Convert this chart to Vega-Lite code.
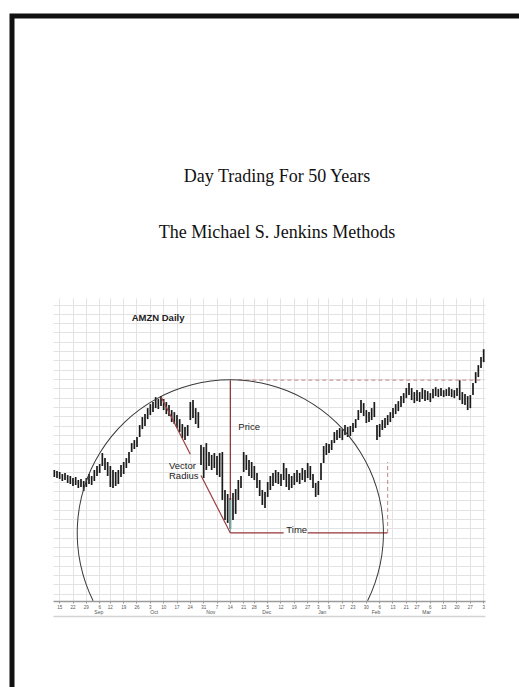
{
  "$schema": "https://vega.github.io/schema/vega-lite/v6.json",
  "width": 527,
  "height": 867,
  "autosize": {"type": "none"},
  "padding": {"left": 12, "top": 16, "right": -20, "bottom": -196},
  "background": "white",
  "config": {
    "view": {"stroke": "#111", "strokeWidth": 5, "fill": null},
    "font": "Liberation Sans"
  },
  "title": {
    "text": ["Day Trading For 50 Years", "The Michael S. Jenkins Methods"],
    "font": "Liberation Serif",
    "fontSize": 18,
    "fontWeight": "normal",
    "color": "#111",
    "lineHeight": 55.6,
    "anchor": "middle",
    "frame": "group",
    "baseline": "alphabetic",
    "offset": -240,
    "dx": 1.5
  },
  "datasets": {
    "bars": [
      {"d":"2016-08-11","h":772.5,"l":765.0},{"d":"2016-08-12","h":771.4,"l":763.9},{"d":"2016-08-15","h":770.4,"l":762.9},{"d":"2016-08-16","h":768.2,"l":760.7},{"d":"2016-08-17","h":769.3,"l":761.8},{"d":"2016-08-18","h":767.1,"l":758.6},{"d":"2016-08-19","h":766.1,"l":757.5},
      {"d":"2016-08-22","h":763.9,"l":755.4},{"d":"2016-08-23","h":765.0,"l":756.4},{"d":"2016-08-24","h":761.8,"l":753.2},{"d":"2016-08-25","h":762.9,"l":754.3},{"d":"2016-08-26","h":760.7,"l":750.0},
      {"d":"2016-08-29","h":763.9,"l":754.3},{"d":"2016-08-30","h":768.2,"l":757.5},{"d":"2016-08-31","h":766.1,"l":756.4},{"d":"2016-09-01","h":772.5,"l":760.7},{"d":"2016-09-02","h":776.8,"l":766.1},
      {"d":"2016-09-06","h":778.9,"l":769.3},{"d":"2016-09-07","h":790.7,"l":776.8},{"d":"2016-09-08","h":785.3,"l":772.5},{"d":"2016-09-09","h":781.1,"l":766.1},
      {"d":"2016-09-12","h":776.8,"l":754.3},{"d":"2016-09-13","h":772.5,"l":753.2},{"d":"2016-09-14","h":770.4,"l":755.4},{"d":"2016-09-15","h":772.5,"l":757.5},{"d":"2016-09-16","h":777.9,"l":765.0},
      {"d":"2016-09-19","h":781.1,"l":768.2},{"d":"2016-09-20","h":785.3,"l":774.6},{"d":"2016-09-21","h":791.8,"l":780.0},{"d":"2016-09-22","h":801.4,"l":791.8},{"d":"2016-09-23","h":804.6,"l":795.0},
      {"d":"2016-09-26","h":807.9,"l":797.1},{"d":"2016-09-27","h":820.7,"l":807.9},{"d":"2016-09-28","h":829.3,"l":816.4},{"d":"2016-09-29","h":832.5,"l":819.7},{"d":"2016-09-30","h":838.9,"l":827.1},
      {"d":"2016-10-03","h":843.2,"l":831.4},{"d":"2016-10-04","h":845.4,"l":834.6},{"d":"2016-10-05","h":850.7,"l":838.9},{"d":"2016-10-06","h":848.6,"l":837.9},{"d":"2016-10-07","h":851.8,"l":841.1},
      {"d":"2016-10-10","h":848.6,"l":836.8},{"d":"2016-10-11","h":845.4,"l":832.5},{"d":"2016-10-12","h":842.1,"l":830.4},{"d":"2016-10-13","h":836.8,"l":823.9},{"d":"2016-10-14","h":834.6,"l":821.8},
      {"d":"2016-10-17","h":831.4,"l":817.5},{"d":"2016-10-18","h":827.1,"l":813.2},{"d":"2016-10-19","h":821.8,"l":806.8},{"d":"2016-10-20","h":818.6,"l":804.6},{"d":"2016-10-21","h":820.7,"l":808.9},
      {"d":"2016-10-24","h":845.4,"l":826.1},{"d":"2016-10-25","h":847.5,"l":828.2},{"d":"2016-10-26","h":838.9,"l":821.8},{"d":"2016-10-27","h":834.6,"l":817.5},{"d":"2016-10-28","h":799.3,"l":777.9},
      {"d":"2016-10-31","h":797.1,"l":763.9},{"d":"2016-11-01","h":801.4,"l":772.5},{"d":"2016-11-02","h":791.8,"l":776.8},{"d":"2016-11-03","h":788.6,"l":772.5},{"d":"2016-11-04","h":790.7,"l":774.6},
      {"d":"2016-11-07","h":787.5,"l":767.1},{"d":"2016-11-08","h":790.7,"l":765.0},{"d":"2016-11-09","h":791.8,"l":740.4},{"d":"2016-11-10","h":751.1,"l":719.0},{"d":"2016-11-11","h":746.8,"l":715.7},
      {"d":"2016-11-14","h":742.5,"l":709.3},{"d":"2016-11-15","h":747.9,"l":719.0},{"d":"2016-11-16","h":752.1,"l":725.4},{"d":"2016-11-17","h":761.8,"l":740.4},{"d":"2016-11-18","h":766.1,"l":753.2},
      {"d":"2016-11-21","h":791.8,"l":770.4},{"d":"2016-11-22","h":788.6,"l":772.5},{"d":"2016-11-23","h":783.2,"l":766.1},{"d":"2016-11-25","h":781.1,"l":763.9},
      {"d":"2016-11-28","h":776.8,"l":761.8},{"d":"2016-11-29","h":769.3,"l":753.2},{"d":"2016-11-30","h":761.8,"l":744.6},{"d":"2016-12-01","h":751.1,"l":735.0},{"d":"2016-12-02","h":748.9,"l":731.8},
      {"d":"2016-12-05","h":759.6,"l":743.6},{"d":"2016-12-06","h":766.1,"l":751.1},{"d":"2016-12-07","h":769.3,"l":755.4},{"d":"2016-12-08","h":772.5,"l":758.6},{"d":"2016-12-09","h":770.4,"l":757.5},
      {"d":"2016-12-12","h":768.2,"l":755.4},{"d":"2016-12-13","h":780.0,"l":761.8},{"d":"2016-12-14","h":774.6,"l":754.3},{"d":"2016-12-15","h":768.2,"l":751.1},{"d":"2016-12-16","h":766.1,"l":753.2},
      {"d":"2016-12-19","h":769.3,"l":756.4},{"d":"2016-12-20","h":772.5,"l":759.6},{"d":"2016-12-21","h":769.3,"l":757.5},{"d":"2016-12-22","h":774.6,"l":761.8},{"d":"2016-12-23","h":772.5,"l":759.6},
      {"d":"2016-12-27","h":780.0,"l":763.9},{"d":"2016-12-28","h":776.8,"l":761.8},{"d":"2016-12-29","h":768.2,"l":753.2},{"d":"2016-12-30","h":758.6,"l":743.6},
      {"d":"2017-01-03","h":760.7,"l":745.7},{"d":"2017-01-04","h":780.0,"l":761.8},{"d":"2017-01-05","h":798.2,"l":780.0},{"d":"2017-01-06","h":801.4,"l":788.6},
      {"d":"2017-01-09","h":800.4,"l":790.7},{"d":"2017-01-10","h":804.6,"l":793.9},{"d":"2017-01-11","h":813.2,"l":801.4},{"d":"2017-01-12","h":815.4,"l":804.6},{"d":"2017-01-13","h":817.5,"l":806.8},
      {"d":"2017-01-17","h":816.4,"l":804.6},{"d":"2017-01-18","h":820.7,"l":810.0},{"d":"2017-01-19","h":818.6,"l":807.9},{"d":"2017-01-20","h":819.7,"l":808.9},
      {"d":"2017-01-23","h":822.9,"l":813.2},{"d":"2017-01-24","h":827.1,"l":817.5},{"d":"2017-01-25","h":836.8,"l":826.1},{"d":"2017-01-26","h":847.5,"l":833.6},{"d":"2017-01-27","h":844.3,"l":830.4},
      {"d":"2017-01-30","h":836.8,"l":822.9},{"d":"2017-01-31","h":834.6,"l":823.9},{"d":"2017-02-01","h":838.9,"l":826.1},{"d":"2017-02-02","h":845.4,"l":829.3},{"d":"2017-02-03","h":820.7,"l":804.6},
      {"d":"2017-02-06","h":821.8,"l":807.9},{"d":"2017-02-07","h":826.1,"l":815.4},{"d":"2017-02-08","h":828.2,"l":817.5},{"d":"2017-02-09","h":831.4,"l":820.7},{"d":"2017-02-10","h":834.6,"l":823.9},
      {"d":"2017-02-13","h":838.9,"l":828.2},{"d":"2017-02-14","h":843.2,"l":832.5},{"d":"2017-02-15","h":846.4,"l":835.7},{"d":"2017-02-16","h":851.8,"l":840.0},{"d":"2017-02-17","h":855.0,"l":844.3},
      {"d":"2017-02-21","h":860.4,"l":849.6},{"d":"2017-02-22","h":865.7,"l":852.9},{"d":"2017-02-23","h":860.4,"l":847.5},{"d":"2017-02-24","h":856.1,"l":844.3},
      {"d":"2017-02-27","h":858.2,"l":846.4},{"d":"2017-02-28","h":856.1,"l":845.4},{"d":"2017-03-01","h":860.4,"l":848.6},{"d":"2017-03-02","h":858.2,"l":846.4},{"d":"2017-03-03","h":857.1,"l":847.5},
      {"d":"2017-03-06","h":855.0,"l":845.4},{"d":"2017-03-07","h":859.3,"l":849.6},{"d":"2017-03-08","h":861.4,"l":851.8},{"d":"2017-03-09","h":859.3,"l":850.7},{"d":"2017-03-10","h":860.4,"l":851.8},
      {"d":"2017-03-13","h":858.2,"l":850.7},{"d":"2017-03-14","h":859.3,"l":851.8},{"d":"2017-03-15","h":861.4,"l":851.8},{"d":"2017-03-16","h":859.3,"l":850.7},{"d":"2017-03-17","h":858.2,"l":849.6},
      {"d":"2017-03-20","h":860.4,"l":851.8},{"d":"2017-03-21","h":868.9,"l":847.5},{"d":"2017-03-22","h":856.1,"l":843.2},{"d":"2017-03-23","h":853.9,"l":842.1},{"d":"2017-03-24","h":851.8,"l":836.8},
      {"d":"2017-03-27","h":852.9,"l":838.9},{"d":"2017-03-28","h":865.7,"l":852.9},{"d":"2017-03-29","h":877.5,"l":865.7},{"d":"2017-03-30","h":885.0,"l":872.2},{"d":"2017-03-31","h":893.6,"l":881.8},
      {"d":"2017-04-03","h":902.1,"l":888.2}
    ],
    "segs": [
      {"seg":"price","d1":"2016-11-14","p1":868.9,"d2":"2016-11-14","p2":740.4},
      {"seg":"price low","d1":"2016-11-14","p1":740.4,"d2":"2016-11-14","p2":705.0},
      {"seg":"vector","d1":"2016-10-07","p1":851.1,"d2":"2016-10-24","p2":789.3},
      {"seg":"vector","d1":"2016-10-28","p1":766.7,"d2":"2016-11-14","p2":705.0},
      {"seg":"time","d1":"2016-11-14","p1":705.0,"d2":"2016-12-13","p2":705.0},
      {"seg":"time","d1":"2016-12-27","p1":705.0,"d2":"2017-02-09","p2":705.0}
    ],
    "dashes": [
      {"d1":"2016-11-17","p1":868.9,"d2":"2017-04-03","p2":868.9},
      {"d1":"2017-02-09","p1":705.0,"d2":"2017-02-09","p2":781.1}
    ],
    "labels": [
      {"t":"Price","d":"2016-11-17","p":818.6},
      {"t":"Vector","d":"2016-10-12","p":777.1},
      {"t":"Radius","d":"2016-10-12","p":766.1},
      {"t":"Time","d":"2016-12-14","p":708.2}
    ],
    "heading": [{"t":"AMZN Daily","d":"2016-09-22","p":935.4}],
    "center": [{"d":"2016-11-14","p":705.0}]
  },
  "layer": [
    {
      "data": {"name": "bars"},
      "mark": {"type": "rule", "color": "#1a1a1a", "strokeWidth": 1.7},
      "encoding": {
        "x": {
          "field": "d", "type": "ordinal",
          "scale": {"type": "band", "range": [41, 473], "paddingInner": 0, "paddingOuter": 0},
          "axis": {
            "orient": "bottom", "offset": -282, "title": null,
            "values": ["2016-08-15","2016-08-22","2016-08-29","2016-09-06","2016-09-12","2016-09-19","2016-09-26","2016-10-03","2016-10-10","2016-10-17","2016-10-24","2016-10-31","2016-11-07","2016-11-14","2016-11-21","2016-11-28","2016-12-05","2016-12-12","2016-12-19","2016-12-27","2017-01-03","2017-01-09","2017-01-17","2017-01-23","2017-01-30","2017-02-06","2017-02-13","2017-02-21","2017-02-27","2017-03-06","2017-03-13","2017-03-20","2017-03-27","2017-04-03"],
            "labelExpr": "'' + toNumber(slice(datum.value, 8, 10))",
            "labelAngle": 0, "labelOverlap": false, "labelBound": false, "labelFlush": false,
            "labelFont": "Liberation Sans", "labelFontSize": 4.5, "labelColor": "#555", "labelPadding": 1,
            "labelBaseline": "top",
            "bandPosition": 0.5,
            "ticks": true, "tickSize": 2, "tickColor": "#999",
            "domain": true, "domainColor": "#9a9a9a", "domainWidth": 1.5,
            "grid": true, "gridColor": "#e3e3e3", "gridWidth": 1
          }
        },
        "y": {
          "field": "h", "type": "quantitative",
          "scale": {"domain": [632, 957], "range": [585, 282], "nice": false, "zero": false},
          "axis": {"orient": "left", "title": null, "labels": false, "ticks": false, "domain": false, "grid": true, "gridColor": "#e3e3e3", "gridWidth": 1, "tickCount": 32}
        },
        "y2": {"field": "l"}
      }
    },
    {
      "data": {"name": "segs"},
      "mark": {"type": "rule", "strokeWidth": 1.2},
      "encoding": {
        "x": {"field": "d1", "type": "ordinal", "axis": {"orient": "bottom", "offset": -267, "title": null, "labels": false, "ticks": false, "grid": false, "domain": true, "domainColor": "#d4d4d4", "domainWidth": 1.5}},
        "x2": {"field": "d2"},
        "y": {"field": "p1", "type": "quantitative", "axis": null},
        "y2": {"field": "p2"},
        "color": {"field": "seg", "type": "nominal", "legend": null, "scale": {"domain": ["price", "price low", "vector", "time"], "range": ["#8a2f2f", "#6fb7b7", "#9a4040", "#963636"]}}
      }
    },
    {
      "data": {"name": "dashes"},
      "mark": {"type": "rule", "strokeWidth": 1, "color": "#c48484", "strokeDash": [4, 3]},
      "encoding": {
        "x": {"field": "d1", "type": "ordinal", "axis": null},
        "x2": {"field": "d2"},
        "y": {"field": "p1", "type": "quantitative", "axis": null},
        "y2": {"field": "p2"}
      }
    },
    {
      "data": {"name": "center"},
      "mark": {"type": "arc", "radius": 153.6, "radius2": 152.6, "theta": -2.03, "theta2": 2.03, "fill": "#3a3a3a", "stroke": null},
      "encoding": {
        "x": {"field": "d", "type": "ordinal", "axis": null},
        "y": {"field": "p", "type": "quantitative", "axis": null}
      }
    },
    {
      "data": {"name": "labels"},
      "mark": {"type": "text", "align": "left", "baseline": "middle", "fontSize": 9.5, "font": "Liberation Sans", "color": "#222"},
      "encoding": {
        "x": {
          "field": "d", "type": "ordinal",
          "axis": {
            "orient": "bottom", "offset": -282, "title": null,
            "values": ["2016-09-01","2016-10-03","2016-11-01","2016-12-01","2017-01-03","2017-02-01","2017-03-01"],
            "labelExpr": "['Jan','Feb','Mar','Apr','May','Jun','Jul','Aug','Sep','Oct','Nov','Dec'][toNumber(slice(datum.value, 5, 7)) - 1]",
            "labelAngle": 0, "labelOverlap": false, "labelBound": false, "labelFlush": false,
            "labelAlign": "left", "labelBaseline": "top",
            "labelFont": "Liberation Sans", "labelFontSize": 5, "labelColor": "#555", "labelPadding": 8,
            "bandPosition": 0.5,
            "ticks": false, "domain": false, "grid": false
          }
        },
        "y": {"field": "p", "type": "quantitative", "axis": null},
        "text": {"field": "t"}
      }
    },
    {
      "data": {"name": "heading"},
      "mark": {"type": "text", "align": "left", "baseline": "middle", "fontSize": 9.5, "fontWeight": "bold", "font": "Liberation Sans", "color": "#222"},
      "encoding": {
        "x": {"field": "d", "type": "ordinal", "axis": null},
        "y": {"field": "p", "type": "quantitative", "axis": null},
        "text": {"field": "t"}
      }
    }
  ],
  "resolve": {"axis": {"x": "independent", "y": "independent"}}
}
